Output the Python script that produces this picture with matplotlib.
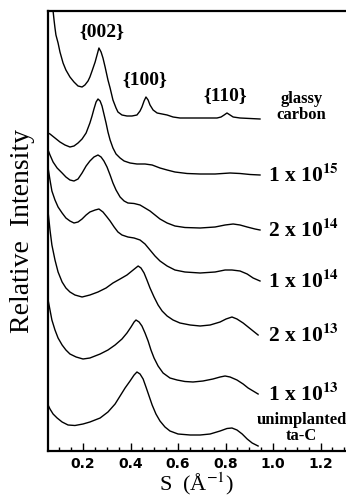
import numpy as np
import matplotlib
matplotlib.use("Agg")
import matplotlib.pyplot as plt

plt.rcParams['mathtext.fontset'] = 'stix'

# scattering vector S (1/Angstrom) and intensity above each trace's baseline
s_glassy = [0.069, 0.074, 0.078, 0.082, 0.086, 0.095, 0.103, 0.116, 0.128, 0.145,
            0.162, 0.179, 0.196, 0.208, 0.221, 0.229, 0.238, 0.251, 0.259, 0.267,
            0.276, 0.284, 0.293, 0.305, 0.314, 0.326, 0.339, 0.347, 0.364, 0.385,
            0.406, 0.427, 0.440, 0.448, 0.457, 0.465, 0.474, 0.482, 0.495, 0.512,
            0.533, 0.554, 0.579, 0.608, 0.693, 0.764, 0.781, 0.794, 0.806, 0.819,
            0.832, 0.861, 0.945]
i_glassy = [12.9, 10.8, 9.9, 9.1, 8.4, 7.6, 6.7, 5.6, 4.9, 4.2,
            3.7, 3.3, 3.2, 3.4, 3.8, 4.2, 4.8, 5.7, 6.4, 7.1,
            6.7, 6.1, 5.2, 3.9, 3.1, 1.9, 1.1, 0.7, 0.4, 0.3,
            0.3, 0.4, 0.8, 1.2, 1.8, 2.2, 1.9, 1.4, 0.9, 0.6,
            0.5, 0.4, 0.2, 0.1, 0.1, 0.1, 0.2, 0.4, 0.6, 0.4,
            0.2, 0.1, 0.0]

s_1e15 = [0.053, 0.061, 0.082, 0.103, 0.124, 0.145, 0.162, 0.179, 0.196, 0.213,
          0.229, 0.238, 0.246, 0.255, 0.263, 0.272, 0.280, 0.288, 0.297, 0.305,
          0.314, 0.326, 0.339, 0.356, 0.373, 0.398, 0.427, 0.461, 0.491, 0.524,
          0.554, 0.587, 0.638, 0.693, 0.756, 0.819, 0.861, 0.903, 0.945]
i_1e15 = [4.2, 4.1, 3.7, 3.3, 3.0, 2.8, 2.9, 3.2, 3.6, 4.2,
          5.2, 5.9, 6.6, 7.3, 7.6, 7.4, 6.9, 6.1, 5.2, 4.3,
          3.5, 2.7, 2.1, 1.7, 1.4, 1.2, 1.1, 1.1, 1.0, 0.7,
          0.5, 0.3, 0.15, 0.1, 0.1, 0.2, 0.15, 0.05, 0.0]

s_2e14 = [0.053, 0.061, 0.074, 0.091, 0.112, 0.128, 0.145, 0.162, 0.179, 0.196,
          0.213, 0.229, 0.246, 0.263, 0.276, 0.288, 0.301, 0.314, 0.326, 0.339,
          0.356, 0.373, 0.389, 0.415, 0.440, 0.461, 0.482, 0.503, 0.524, 0.554,
          0.587, 0.629, 0.693, 0.756, 0.798, 0.832, 0.861, 0.891, 0.924, 0.945]
i_2e14 = [8.0, 7.5, 6.8, 6.2, 5.7, 5.3, 5.0, 4.9, 5.1, 5.7,
          6.4, 6.9, 7.3, 7.5, 7.3, 6.9, 6.3, 5.5, 4.7, 4.0,
          3.3, 2.9, 2.7, 2.65, 2.5, 2.2, 1.9, 1.5, 1.1, 0.7,
          0.4, 0.25, 0.2, 0.3, 0.5, 0.6, 0.5, 0.3, 0.1, 0.0]

s_1e14 = [0.053, 0.061, 0.069, 0.082, 0.095, 0.112, 0.128, 0.145, 0.162, 0.179,
          0.196, 0.213, 0.229, 0.251, 0.267, 0.284, 0.301, 0.314, 0.331, 0.347,
          0.364, 0.389, 0.415, 0.440, 0.461, 0.482, 0.503, 0.524, 0.554, 0.587,
          0.629, 0.693, 0.756, 0.798, 0.827, 0.861, 0.891, 0.916, 0.945]
i_1e14 = [11.3, 10.1, 9.0, 8.1, 7.4, 6.8, 6.3, 6.0, 5.8, 5.9,
          6.2, 6.6, 6.9, 7.1, 7.2, 6.9, 6.4, 6.0, 5.4, 4.9,
          4.6, 4.4, 4.3, 4.1, 3.7, 3.1, 2.5, 2.0, 1.5, 1.1,
          0.9, 0.8, 0.9, 1.1, 1.1, 1.0, 0.7, 0.3, 0.0]

s_2e13 = [0.053, 0.061, 0.069, 0.082, 0.095, 0.112, 0.128, 0.145, 0.166, 0.196,
          0.229, 0.263, 0.297, 0.326, 0.356, 0.385, 0.411, 0.432, 0.444, 0.457,
          0.469, 0.482, 0.499, 0.516, 0.533, 0.554, 0.579, 0.608, 0.651, 0.693,
          0.735, 0.777, 0.802, 0.827, 0.848, 0.874, 0.895, 0.916, 0.937]
i_2e13 = [12.3, 10.5, 9.0, 7.5, 6.3, 5.3, 4.7, 4.3, 4.0, 3.8,
          4.0, 4.3, 4.7, 5.2, 5.6, 6.0, 6.5, 6.9, 6.7, 6.2,
          5.5, 4.7, 3.8, 3.0, 2.4, 1.9, 1.5, 1.2, 1.0, 0.9,
          1.0, 1.3, 1.6, 1.8, 1.6, 1.2, 0.8, 0.4, 0.0]

s_1e13 = [0.053, 0.061, 0.069, 0.082, 0.095, 0.112, 0.128, 0.145, 0.171, 0.200,
          0.229, 0.272, 0.305, 0.335, 0.364, 0.385, 0.402, 0.415, 0.423, 0.436,
          0.448, 0.461, 0.474, 0.486, 0.499, 0.516, 0.537, 0.566, 0.596, 0.629,
          0.663, 0.705, 0.747, 0.777, 0.798, 0.819, 0.848, 0.874, 0.895, 0.916,
          0.937]
i_1e13 = [9.4, 8.4, 7.4, 6.4, 5.6, 4.9, 4.4, 4.0, 3.7, 3.5,
          3.6, 4.0, 4.4, 4.9, 5.5, 6.1, 6.7, 7.2, 7.4, 7.2,
          6.8, 6.1, 5.3, 4.4, 3.6, 2.8, 2.1, 1.6, 1.4, 1.25,
          1.2, 1.3, 1.5, 1.7, 1.8, 1.7, 1.4, 1.0, 0.6, 0.3,
          0.0]

s_taC = [0.053, 0.061, 0.074, 0.091, 0.112, 0.137, 0.166, 0.200, 0.229, 0.272,
         0.305, 0.335, 0.356, 0.377, 0.398, 0.415, 0.427, 0.440, 0.453, 0.465,
         0.478, 0.491, 0.507, 0.524, 0.545, 0.566, 0.600, 0.651, 0.693, 0.735,
         0.777, 0.806, 0.827, 0.848, 0.870, 0.891, 0.912, 0.937]
i_taC = [4.1, 3.7, 3.2, 2.8, 2.4, 2.1, 2.05, 2.2, 2.4, 2.8,
         3.4, 4.2, 5.0, 5.8, 6.5, 7.1, 7.4, 7.2, 6.7, 5.9,
         5.0, 4.1, 3.2, 2.5, 1.9, 1.5, 1.2, 1.1, 1.1, 1.2,
         1.5, 1.75, 1.8, 1.6, 1.2, 0.7, 0.3, 0.0]

# vertical stacking of the traces (arbitrary units)
offsets = [33.2, 27.6, 22.1, 17.0, 11.6, 5.7, 0.5]
labels = ["glassy\ncarbon",
          r"1 x 10$^{\mathbf{15}}$",
          r"2 x 10$^{\mathbf{14}}$",
          r"1 x 10$^{\mathbf{14}}$",
          r"2 x 10$^{\mathbf{13}}$",
          r"1 x 10$^{\mathbf{13}}$",
          "unimplanted\nta-C"]

traces = [(s_glassy, i_glassy), (s_1e15, i_1e15), (s_2e14, i_2e14),
          (s_1e14, i_1e14), (s_2e13, i_2e13), (s_1e13, i_1e13), (s_taC, i_taC)]

peak_names = ["{002}", "{100}", "{110}"]
peak_pos = [(0.28, 41.9), (0.46, 37.1), (0.80, 35.5)]

fig = plt.figure(figsize=(3.46, 4.95), dpi=100)
ax = fig.add_axes([48/346, 44/495, 298/346, 440/495])

for (s, inten), off in zip(traces, offsets):
    ax.plot(s, np.array(inten) + off, color='black', lw=1.0)

serif = ['Liberation Serif', 'DejaVu Serif']
for k, (lab, off) in enumerate(zip(labels, offsets)):
    if "\n" in lab:
        yy = off + 1.2 if k == 0 else off + 1.8
        ax.text(1.12, yy, lab, ha='center', va='center', fontsize=12,
                fontweight='bold', family=serif, linespacing=0.95)
    else:
        ax.text(0.978, off, lab, ha='left', va='center', fontsize=15.5,
                fontweight='bold', family=serif)

for name, (x, y) in zip(peak_names, peak_pos):
    ax.text(x, y, name, ha='center', va='center', fontsize=14,
            fontweight='bold', family=serif)

ax.set_xlim(0.0526, 1.307)
ax.set_ylim(0, 44)
ax.set_yticks([])
ax.set_xticks([0.2, 0.4, 0.6, 0.8, 1.0, 1.2])
ax.set_xticklabels(["0.2", "0.4", "0.6", "0.8", "1.0", "1.2"])
ax.set_xticks(np.arange(0.1, 1.31, 0.05), minor=True)
ax.tick_params(axis='x', which='major', direction='in', length=6, width=1,
               pad=4, labelsize=10)
ax.tick_params(axis='x', which='minor', direction='in', length=3, width=1)
for lab in ax.get_xticklabels():
    lab.set_fontweight('bold')
    lab.set_family('DejaVu Sans')

for side in ['left', 'top', 'bottom']:
    ax.spines[side].set_linewidth(1.6)
ax.spines['right'].set_visible(False)

fig.text(0.064, 1 - 231/495, "Relative  Intensity", rotation=90,
         ha='center', va='center', fontsize=20, family=serif)
fig.text(197/346, 1 - 490/495, r"S  (Å$^{-1}$)", ha='center', va='baseline',
         fontsize=16, family=serif)

fig.savefig("out.png", dpi=100)
